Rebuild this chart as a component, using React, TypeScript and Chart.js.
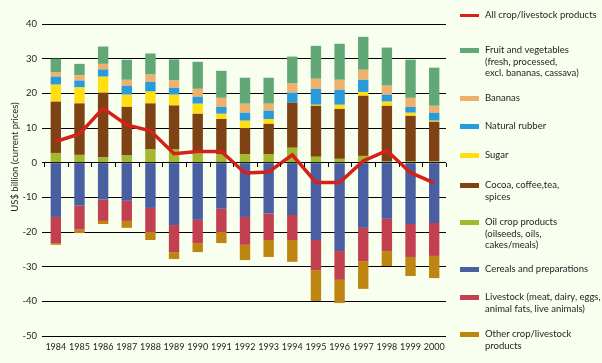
import React, { useEffect, useRef } from "react";
import { Chart, registerables } from "chart.js";

Chart.register(...registerables);

// ---------- Data (US$ billion, current prices) ----------
const years = [
  "1984", "1985", "1986", "1987", "1988", "1989", "1990", "1991", "1992",
  "1993", "1994", "1995", "1996", "1997", "1998", "1999", "2000",
];

// positive (exports-side) stack, bottom to top
const oilCrop = [2.8, 2.25, 1.5, 2.05, 3.8, 3.8, 2.7, 2.5, 2.5, 2.5, 4.3, 1.7, 1.1, 1.95, 0.3, 0.3, 0.3];
const cocoaCoffee = [14.8, 14.85, 18.7, 14.05, 13.3, 12.7, 11.4, 10.1, 7.5, 8.7, 13.0, 14.7, 14.4, 17.35, 16.1, 13.2, 11.5];
const sugar = [4.9, 4.6, 4.6, 3.5, 3.4, 3.1, 2.9, 1.5, 2.1, 1.4, 0, 0.3, 1.2, 1.1, 1.2, 0.9, 0.3];
const naturalRubber = [2.3, 2.0, 2.1, 2.6, 2.8, 2.0, 2.0, 2.0, 2.3, 2.4, 2.9, 4.6, 4.3, 3.5, 2.0, 1.7, 2.3];
const bananas = [1.2, 1.5, 1.6, 1.7, 2.1, 2.1, 2.3, 2.6, 2.6, 2.0, 2.6, 2.9, 2.9, 2.9, 2.6, 2.6, 2.0];
const fruitVeg = [4.0, 3.3, 5.0, 5.8, 6.1, 6.1, 7.8, 7.8, 7.5, 7.5, 7.8, 9.5, 10.4, 9.5, 11.0, 11.0, 11.0];

// negative (imports-side) stack, from zero downward
const cereals = [-15.65, -12.4, -10.65, -11.0, -13.05, -18.0, -16.5, -13.3, -15.65, -14.7, -15.1, -22.3, -25.5, -18.8, -16.2, -17.7, -17.4];
const livestock = [-7.55, -6.9, -6.15, -5.8, -6.95, -7.8, -6.7, -6.7, -8.05, -7.6, -7.2, -8.7, -8.3, -9.6, -9.3, -9.5, -9.5];
const otherProducts = [-0.5, -1.0, -0.9, -2.0, -2.3, -2.0, -2.6, -3.2, -4.4, -4.9, -6.3, -8.9, -6.7, -8.0, -4.3, -5.5, -6.4];

// net balance line
const allProducts = [6.1, 8.3, 15.7, 10.9, 9.2, 2.6, 3.2, 3.2, -3.0, -2.7, 2.25, -5.7, -5.7, 0.5, 3.5, -2.9, -5.8];

const yTicks = [40, 30, 20, 10, 0, -10, -20, -30, -40, -50];

// ---------- Styles ----------
const FONT = "Lato, 'Open Sans', sans-serif";
const TEXT = "#1e1e1e";
const BG = "#F8FFEE";
const C = {
  all: "#D5211A",
  fruit: "#62A877",
  bananas: "#EEB06C",
  rubber: "#2A9BDA",
  sugar: "#FFDE12",
  cocoa: "#7E4215",
  oil: "#A3B72F",
  cereals: "#4A5EA2",
  livestock: "#C2404F",
  other: "#BE8513",
};

const legendItems = [
  { lines: ["All crop/livestock products"], color: C.all, y: 15, line: true },
  { lines: ["Fruit and vegetables", "(fresh, processed,", "excl. bananas, cassava)"], color: C.fruit, y: 50 },
  { lines: ["Bananas"], color: C.bananas, y: 98 },
  { lines: ["Natural rubber"], color: C.rubber, y: 126 },
  { lines: ["Sugar"], color: C.sugar, y: 155 },
  { lines: ["Cocoa, coffee,tea,", "spices"], color: C.cocoa, y: 185 },
  { lines: ["Oil crop products", "(oilseeds, oils,", "cakes/meals)"], color: C.oil, y: 222 },
  { lines: ["Cereals and preparations"], color: C.cereals, y: 269 },
  { lines: ["Livestock (meat, dairy, eggs,", "animal fats, live animals)"], color: C.livestock, y: 297 },
  { lines: ["Other crop/livestock", "products"], color: C.other, y: 334 },
];

const W = 602;
const H = 363;

export default function App() {
  const ref = useRef<HTMLCanvasElement | null>(null);

  useEffect(() => {
    document.body.style.margin = "0";
    document.body.style.background = BG;
    const canvas = ref.current;
    if (!canvas) return;

    const bar = (label: string, data: number[], color: string) => ({
      type: "bar" as const,
      label,
      data,
      backgroundColor: color,
      borderWidth: 0,
      stack: "s",
      barPercentage: 0.44,
      categoryPercentage: 1,
    });

    const extras = {
      id: "extras",
      afterDatasetsDraw(chart: any) {
        const { ctx, chartArea, scales } = chart;
        const y0 = scales.y.getPixelForValue(0);
        const n = years.length;
        const step = (chartArea.right - chartArea.left) / n;
        ctx.save();
        ctx.strokeStyle = "#000";
        ctx.lineWidth = 1;
        ctx.beginPath();
        for (let i = 0; i <= n; i++) {
          const x = Math.round(chartArea.left + i * step) + 0.5;
          ctx.moveTo(x, Math.round(y0));
          ctx.lineTo(x, Math.round(y0) + 4);
        }
        ctx.stroke();
        ctx.restore();
      },
      afterDraw(chart: any) {
        const { ctx } = chart;
        ctx.save();
        ctx.translate(15, 157);
        ctx.rotate(-Math.PI / 2);
        ctx.font = `9.5px ${FONT}`;
        ctx.fillStyle = TEXT;
        ctx.textAlign = "center";
        ctx.textBaseline = "middle";
        ctx.fillText("US$ billion (current prices)", 0, 0);
        ctx.restore();
      },
    };

    const chart = new Chart(canvas, {
      data: {
        labels: years,
        datasets: [
          {
            type: "line" as const,
            label: "All crop/livestock products",
            data: allProducts,
            borderColor: C.all,
            borderWidth: 3.5,
            pointRadius: 0,
            tension: 0,
            stack: "line",
            order: -1,
          } as any,
          bar("Oil crop products", oilCrop, C.oil),
          bar("Cocoa, coffee, tea, spices", cocoaCoffee, C.cocoa),
          bar("Sugar", sugar, C.sugar),
          bar("Natural rubber", naturalRubber, C.rubber),
          bar("Bananas", bananas, C.bananas),
          bar("Fruit and vegetables", fruitVeg, C.fruit),
          bar("Cereals and preparations", cereals, C.cereals),
          bar("Livestock", livestock, C.livestock),
          bar("Other crop/livestock products", otherProducts, C.other),
        ],
      },
      options: {
        responsive: false,
        animation: false,
        devicePixelRatio: 1,
        layout: { padding: { left: 0, right: 156, top: 24, bottom: 0 } },
        plugins: {
          legend: { display: false },
          tooltip: { enabled: false },
        },
        scales: {
          x: {
            stacked: true,
            grid: { display: false, drawTicks: false },
            border: { display: false },
            ticks: {
              color: TEXT,
              font: { family: FONT, size: 9 },
              padding: 6,
              maxRotation: 0,
              autoSkip: false,
            },
            afterFit: (s: any) => {
              s.height = 27;
            },
          },
          y: {
            stacked: true,
            min: -50,
            max: 40,
            afterBuildTicks: (s: any) => {
              s.ticks = yTicks.map((v) => ({ value: v }));
            },
            grid: {
              color: "#000",
              lineWidth: 1,
              drawTicks: true,
              tickLength: 2,
            },
            border: { display: false },
            ticks: {
              color: TEXT,
              font: { family: FONT, size: 9.5 },
              padding: 5,
            },
            afterFit: (s: any) => {
              s.width = 44;
            },
          },
        },
      },
      plugins: [extras],
    } as any);

    return () => chart.destroy();
  }, []);

  return (
    <div style={{ position: "relative", width: W, height: H, background: BG, overflow: "hidden" }}>
      <canvas ref={ref} width={W} height={H} style={{ position: "absolute", left: 0, top: 0, width: W, height: H }} />
      {legendItems.map((it, i) => (
        <div key={i}>
          <div
            style={{
              position: "absolute",
              left: 460,
              top: it.y - (it.line ? 1.5 : 2.5),
              width: 19,
              height: it.line ? 3 : 5,
              background: it.color,
            }}
          />
          <div
            style={{
              position: "absolute",
              left: 485,
              top: it.y - 6,
              fontFamily: FONT,
              fontSize: 9.5,
              lineHeight: "11.7px",
              color: TEXT,
              whiteSpace: "nowrap",
            }}
          >
            {it.lines.map((l, j) => (
              <div key={j}>{l}</div>
            ))}
          </div>
        </div>
      ))}
    </div>
  );
}
